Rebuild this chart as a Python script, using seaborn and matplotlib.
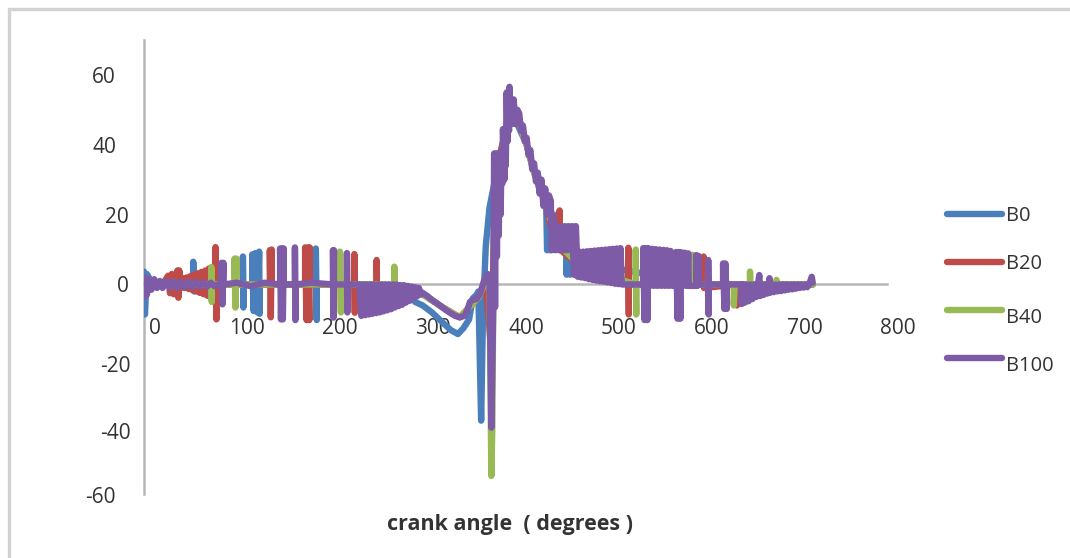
import matplotlib
matplotlib.use("Agg")
import matplotlib.pyplot as plt
from matplotlib.patches import Rectangle
from matplotlib.transforms import ScaledTranslation
import pandas as pd
import seaborn as sns

# ─── Data ─────────────────────────────────────────────────────────────────────
b0_angle = [0, 1, 3, 10, 30, 53, 53, 54, 54, 80,
            106.5, 106.5, 107, 107, 116.5, 116.5, 118, 120, 122, 124, 124.5, 124.5,
            150, 185, 185, 186, 186, 240, 285,
            292, 300, 310, 320, 330, 338, 344, 350, 354, 358, 360, 363, 365, 368,
            372, 378, 384, 395, 412, 425, 433, 434, 436, 437, 440, 454, 455, 457, 459, 459, 470, 500, 600, 720]
b0_value = [3.7, -8.6, 3, 0, 0, 0, 6.5, -2, 0, 0,
            0, 8, -6.6, 0, 0, 8.6, -7.6, 9, -8, 9.4, -8.4, 0,
            0, 0, 10.3, -10.2, 0, 0, -2,
            -5, -6, -8, -10.5, -13, -14.2, -12.5, -10, -4, -3, -2, -39, -8, 11,
            22, 30, 38, 50, 40, 28, 24, 9.8, 22, 9.8, 16, 16, 2.8, 16, 2.8, 10, 5, 5, 0, 0]

b20_angle = [0, 20, 26, 28, 30, 32, 34, 36, 37, 38, 40, 42, 44, 46, 48, 50, 52, 54, 56, 58, 60, 62, 64, 66, 68, 70, 71.5,
             77, 77, 78, 78, 120, 135.5, 135.5, 136.5, 137.5, 137.5,
             173.5, 173.5, 175, 176.5, 178, 178.5, 178.5, 226.5, 226.5, 227, 227, 250.5, 250.5, 251, 251,
             280, 300, 320, 340, 360, 368, 374, 378, 390, 400, 412, 420, 432, 440, 447, 447.5, 448, 470,
             521.5, 521.5, 522, 522, 602.5, 602.5, 603, 638.5, 638.5, 639, 720]
b20_value = [0, 0, 2.5, -2.5, 3, -2.8, 1.5, 4, -3.8, 4, -1, 1.8, -1, 2, -1.3, 2.4, -1.6, 2.8, -2, 3.2, -2.4, 3.6, -2.8, 4, -3.2, 4.6, -3.6,
             0, 10.7, -10, 0, 0, 0, 9.8, -9.4, 10, 0,
             0, 10.6, -10.2, 10.6, -10.2, 10.6, 0, 0, 8.7, -8.1, 0, 0, 7, -7, 0,
             -0.5, -2.8, -6.3, -9.4, -3.8, 1, -20, 30, 45, 49, 40, 32, 24, 14, 14, 21.2, 10, 5,
             0, 10.5, -8.6, 0, 0, 8, -1, 0, -6, 0, 0]

b40_angle = [0, 60, 72.5, 72.5, 73, 73, 97.5, 97.5, 98.5, 99.5, 99.5, 211, 211, 212, 212, 269.5, 269.5, 270, 270,
             285, 300, 320, 340, 360, 368, 372, 374, 375, 376, 378, 384, 390, 400, 412, 420, 432, 445, 470,
             529.5, 529.5, 530, 530, 590.5, 590.5, 591, 635, 635, 636, 652.5, 652.5, 653, 653, 681, 681, 682, 720]
b40_value = [0, 0, 0, 5, -5, 0, 0, 7.4, -6.6, 7.4, 0, 0, 9.4, -8, 0, 0, 5.1, -5, 0,
             -1, -2.8, -6.3, -9.4, -3.8, 1, 2, -54.8, -41, -7, 10, 30, 45, 49, 40, 32, 24, 12, 5,
             0, 10, -8.6, 0, 0, 8.5, 0, 0, -6, 0, 0, 3.7, -3.5, 0, 0, 1.3, 0, 0]

b100_angle = [0, 1, 3, 5, 8, 11, 14, 17, 20, 24, 28, 32, 36, 40, 44, 48, 52, 56, 60, 64, 68, 72, 76, 80,
              83.5, 83.5, 84.5, 85.5, 85.5, 100, 115, 130,
              146.5, 146.5, 147.5, 148.5, 149.5, 150.5, 150.5,
              162.5, 162.5, 163, 163, 180, 203.5, 203.5, 204, 204.5, 204.5, 218.5, 218.5, 219, 219,
              232, 234, 236, 238, 240, 242, 244, 246, 248, 250, 252, 254, 256, 258, 260, 262, 264, 266,
              268, 270, 272, 274, 276, 278, 280, 282, 284, 286, 288, 290, 292, 294, 296, 298, 300,
              305, 310, 315, 320, 325, 330, 335, 340, 345, 348, 351, 354, 358, 362, 366, 370,
              372, 374, 376, 377, 378, 379, 380, 381, 382, 383, 384, 385, 386, 386.5, 388, 389, 389.5,
              390.5, 391.5, 392.5, 393, 393.5, 394.5, 396, 397, 398, 400, 402,
              404, 406, 408, 410, 412, 414, 416, 418, 420, 422, 424, 426, 428, 430, 432, 434, 436,
              438, 439, 441, 443, 445, 447, 449, 451, 453, 455, 457, 459, 461, 463, 465,
              467, 469, 471, 473, 475, 477, 479, 481, 483, 485, 487, 489, 491, 493, 495, 497, 499, 501, 503, 505,
              507, 509, 511, 513, 514.5, 537.5,
              537.5, 539, 540.5, 542, 543,
              545, 547, 549, 551, 553, 555, 557, 559, 561, 563, 565, 567, 569,
              573, 574.5, 576, 577.5, 578.5, 580, 582, 584, 586, 586.5,
              594.5, 594.5, 596, 597, 597.5, 607.5, 607.5, 608, 608,
              623.5, 623.5, 625, 626, 627.5, 627.5, 643.5, 643.5, 645, 647, 649, 651, 653, 655, 657, 659,
              661, 662.5, 663.5, 665, 667, 669, 671, 673.5, 674, 676, 678, 680, 682, 684, 686, 688, 690, 692,
              694, 696, 698, 700, 702, 704, 706, 708, 710, 712, 714, 716, 719, 720]
b100_value = [-3.5, 2, -3, 1.5, -1.5, 1.5, -1, 1, -1, 1, -1, 1, -1, 0.8, -0.8, 0.8, -0.8, 0.8, -0.6, 0.6, -0.6, 0.5, -0.5, 0,
              0, 6.2, -5.7, 6.2, 0, 0.5, -0.5, 0.5,
              0, 10.3, -10, 10.3, -10, 10.3, 0,
              0, 10.6, -10.2, 0, 0.5, 0, 9.8, -9.5, 9.8, 0, 0, 9, -8, 0,
              0, -9, 0, -8.8, 0, -8.6, 0, -8.4, 0, -8.2, 0, -8, 0, -7.7, 0, -7.4, 0, -7.1,
              0, -6.6, 0, -6.2, -0.2, -5.8, -0.2, -5.2, -0.4, -4.7, -0.6, -4, -0.8, -3.4, -1, -2.9, -2.4,
              -3.3, -4.4, -5.3, -6.3, -7.3, -8.2, -9, -9.4, -9, -7.5, -5, -4.4, -4.2, -2.5, 1, 3,
              2, -41, -7, 37.5, -6.5, 37.5, 8, 37.5, 14, 37.5, 20, 37.5, 29, 44.5, 30, 44.5, 34,
              55, 41, 55, 44, 56.6, 47, 52, 46, 53, 46, 50,
              49, 44, 45.5, 41, 42, 37, 38.5, 33, 34.7, 29.5, 32, 26, 30, 22.5, 27.5, 20, 25.5,
              24, 9.8, 20, 9.8, 16.7, 9.8, 16.7, 9.8, 16.7, 9.8, 16.7, 9.8, 16.7, 2.8, 16.7,
              2.2, 9.4, 2, 9.4, 1.8, 9.5, 1.5, 9.6, 1.3, 9.7, 1.1, 9.8, 0.9, 9.9, 0.8, 10, 0.6, 10.1, 0.4, 10.2,
              0.2, 10.3, 0.1, 10.4, 0, 0,
              10.4, -10.2, 10.4, -10.2, 10.4,
              -0.4, 10.2, -0.4, 10.1, -0.4, 10, -0.4, 9.9, -0.4, 9.8, -0.4, 9.6, -0.4,
              9.3, -9.8, 9.3, -9.8, 9.2, -0.4, 9.1, -0.4, 8.9, -0.4,
              -0.4, 8.4, -0.4, 8.2, 0, 0, 7, -8.6, 0,
              0, 6, -7, 6, -7, 0, 0, -5.6, 0, -5.2, 0, -4.8, 0, -4.2, 0, -3.6,
              0, 2.7, -3.3, 0, -3, 0, -2.6, 1.8, -2.4, 0, -2.2, 0, -2, 0, -1.9, 0, -1.7, 0,
              -1.5, 0, -1.4, 0, -1.2, 0, -1, 0, -0.9, 0, -0.8, -0.1, 2.2, 0.5]

series_names = ["B0", "B20", "B40", "B100"]
x_ticks = [0, 100, 200, 300, 400, 500, 600, 700, 800]
y_ticks = [60, 40, 20, 0, -20, -40, -60]

# ─── Style ────────────────────────────────────────────────────────────────────
COLORS = dict(zip(series_names, ["#4a7fbb", "#be4b48", "#98b954", "#7d5ba6"]))
AXIS_GREY = "#b6b6b6"
TEXT = "#333333"
# label nudges in pixels, the labels in the source sit off their ticks
Y_LABEL_NUDGE = {60: (-28, 0), 40: (-28, 0), 20: (-15, 0), 0: (-15, 0),
                 -20: (-13, -10), -40: (-13, -7), -60: (-28, -1)}
X_LABEL_NUDGE = 10.5
LEGEND_TEXT_DROP = [0, 0, 6, 6]

sns.set_style("white")
plt.rcParams["font.family"] = ["Open Sans", "DejaVu Sans"]
plt.rcParams["path.simplify"] = False

frames = []
for name, angle, value in zip(series_names, [b0_angle, b20_angle, b40_angle, b100_angle],
                              [b0_value, b20_value, b40_value, b100_value]):
    frames.append(pd.DataFrame({"angle": angle, "value": value, "series": name}))
df = pd.concat(frames, ignore_index=True)

W, H = 1070, 558
fig = plt.figure(figsize=(W / 100, H / 100), dpi=100, facecolor="white")
ax = fig.add_axes([144 / W, 1 - 494 / H, 743 / W, 454 / H])

sns.lineplot(data=df, x="angle", y="value", hue="series", hue_order=series_names, palette=COLORS,
             sort=False, estimator=None, linewidth=4.6, solid_capstyle="round", solid_joinstyle="round", ax=ax)

ax.set_xlim(0, 800)
ax.set_ylim(-60, 70)
ax.set_xticks(x_ticks)
ax.set_yticks(y_ticks)
ax.set_yticklabels([str(v) for v in y_ticks])
ax.patch.set_alpha(0)

ax.spines["top"].set_visible(False)
ax.spines["right"].set_visible(False)
ax.spines["bottom"].set_position(("data", 0))
for side in ["left", "bottom"]:
    ax.spines[side].set_color(AXIS_GREY)
    ax.spines[side].set_linewidth(1.8)
    ax.spines[side].set_zorder(1)

ax.tick_params(axis="x", length=0, pad=24, labelsize=15, labelcolor=TEXT)
ax.tick_params(axis="y", length=0, pad=0, labelsize=15, labelcolor=TEXT)
for label in ax.get_xticklabels():
    label.set_transform(label.get_transform() + ScaledTranslation(X_LABEL_NUDGE / 100, 0, fig.dpi_scale_trans))
for label, v in zip(ax.get_yticklabels(), y_ticks):
    dx, dy = Y_LABEL_NUDGE[v]
    label.set_transform(label.get_transform() + ScaledTranslation(dx / 100, dy / 100, fig.dpi_scale_trans))

ax.set_xlabel("crank angle  ( degrees )", fontsize=15.5, fontweight="bold", color=TEXT)
ax.xaxis.set_label_coords(0.4926, -0.044)
ax.set_ylabel("")

leg = ax.legend(loc="center left", bbox_to_anchor=(947 / W, 1 - 288 / H), bbox_transform=fig.transFigure,
                frameon=False, fontsize=14.5, handlelength=2.73, handletextpad=0.2, labelspacing=1.38,
                borderpad=0, borderaxespad=0)
for text, drop in zip(leg.get_texts(), LEGEND_TEXT_DROP):
    text.set_color(TEXT)
    text.set_y(-drop)

# light grey chart frame, cut off at the right and bottom of the screenshot
fig.add_artist(Rectangle((8.5 / W, -0.1), 1.1, 1.1 - 9.5 / H, transform=fig.transFigure,
                         fill=False, edgecolor="#d2d2d2", linewidth=2.4))

fig.savefig("out.png", dpi=100)
plt.close(fig)
